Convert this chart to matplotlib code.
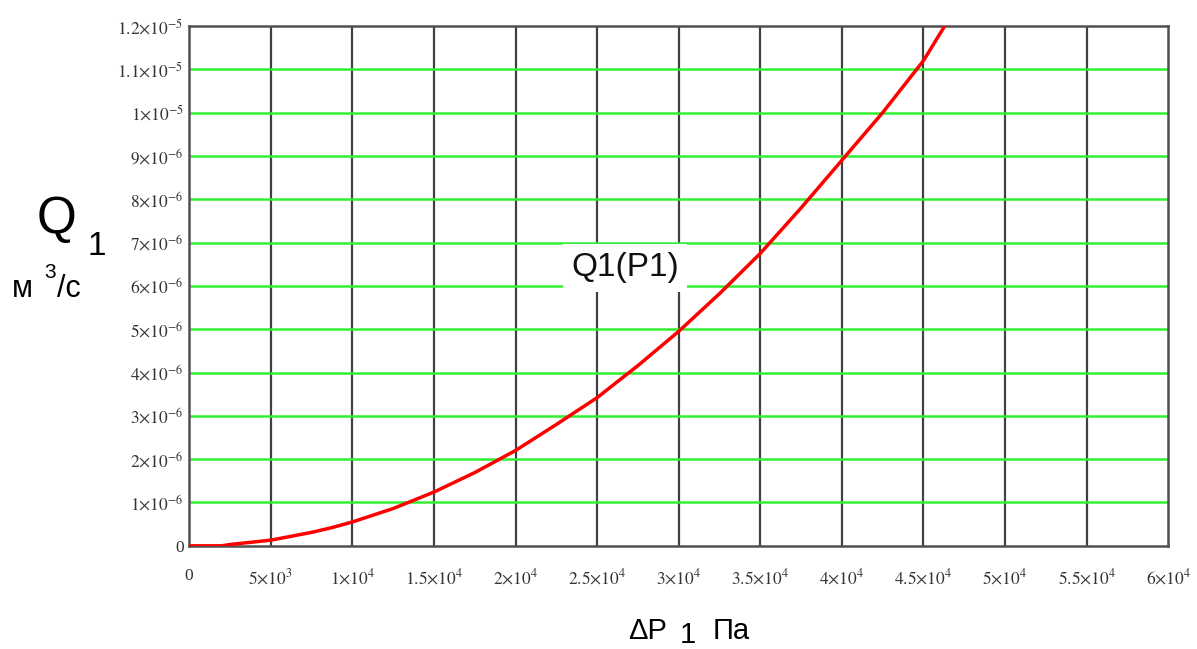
import matplotlib.pyplot as plt

# Dados (ΔP1 em Pa, Q1 em m^3/s)
p1 = [0, 2000, 2500, 3750, 5000, 6250, 7500, 8750, 10000, 12500, 15000, 17500, 20000, 22500,
      25000, 27500, 30000, 32500, 35000, 37500, 40000, 42500, 45000, 46300]
q1 = [0, 0, 0.03e-6, 0.08e-6, 0.13e-6, 0.22e-6, 0.31e-6, 0.42e-6, 0.55e-6, 0.86e-6, 1.24e-6,
      1.69e-6, 2.2e-6, 2.8e-6, 3.42e-6, 4.16e-6, 4.95e-6, 5.82e-6, 6.75e-6, 7.8e-6, 8.9e-6,
      10.0e-6, 11.2e-6, 12.0e-6]

x_ticks = [0, 5e3, 1e4, 1.5e4, 2e4, 2.5e4, 3e4, 3.5e4, 4e4, 4.5e4, 5e4, 5.5e4, 6e4]
x_labels = ['0', r'$5{\times}10^{3}$', r'$1{\times}10^{4}$', r'$1.5{\times}10^{4}$',
            r'$2{\times}10^{4}$', r'$2.5{\times}10^{4}$', r'$3{\times}10^{4}$',
            r'$3.5{\times}10^{4}$', r'$4{\times}10^{4}$', r'$4.5{\times}10^{4}$',
            r'$5{\times}10^{4}$', r'$5.5{\times}10^{4}$', r'$6{\times}10^{4}$']
y_ticks = [i * 1e-6 for i in range(13)]
y_labels = ['0'] + [r'$%d{\times}10^{-6}$' % i for i in range(1, 10)] + \
           [r'$1{\times}10^{-5}$', r'$1.1{\times}10^{-5}$', r'$1.2{\times}10^{-5}$']

plt.rcParams['mathtext.fontset'] = 'stix'
plt.rcParams['font.family'] = ['Liberation Serif', 'DejaVu Sans']

fig = plt.figure(figsize=(11.97, 6.49), dpi=100)
ax = fig.add_axes([0.158, 0.159, 0.818, 0.801])

ax.plot(p1, q1, color='#ff0000', lw=2.5, zorder=3)

ax.set_xlim(0, 6e4)
ax.set_ylim(0, 1.2e-5)
ax.set_xticks(x_ticks)
ax.set_xticklabels(x_labels, fontsize=12.5)
ax.set_yticks(y_ticks)
ax.set_yticklabels(y_labels, fontsize=12.5)
ax.tick_params(length=0, pad=4, colors='#333333')
ax.tick_params(axis='x', pad=16)

# linhas de grade: verticais pretas, horizontais verdes
for xv in x_ticks[1:-1]:
    ax.axvline(xv, color='#404040', lw=1.6, zorder=1)
for yv in y_ticks[1:-1]:
    ax.axhline(yv, color='#33ee33', lw=1.8, zorder=1)

for s in ax.spines.values():
    s.set_color('#505050')
    s.set_linewidth(1.8)

ax.text(2.67e4, 6.42e-6, 'Q1(P1)', fontsize=24, family='Liberation Sans', ha='center', va='center',
        color='#111111', zorder=4,
        bbox=dict(facecolor='white', edgecolor='none', pad=6))

# rótulos dos eixos
fig.text(0.0476, 0.641, 'Q', fontsize=37, family='Liberation Sans', ha='center', va='baseline')
fig.text(0.0735, 0.607, '1', fontsize=24, family='Liberation Sans', ha='left', va='baseline')
fig.text(0.010, 0.5424, 'м', fontsize=22, family='Liberation Sans', ha='left', va='baseline')
fig.text(0.037, 0.572, '3', fontsize=15, family='Liberation Sans', ha='left', va='baseline')
fig.text(0.048, 0.5424, '/с', fontsize=22, family='Liberation Sans', ha='left', va='baseline')
fig.text(0.5246, 0.016, 'ΔP', fontsize=21, family='Liberation Sans', ha='left', va='baseline')
fig.text(0.568, 0.010, '1', fontsize=21, family='Liberation Sans', ha='left', va='baseline')
fig.text(0.5957, 0.016, 'Па', fontsize=21, family='Liberation Sans', ha='left', va='baseline')

plt.savefig('out.png', dpi=100, facecolor='white')
